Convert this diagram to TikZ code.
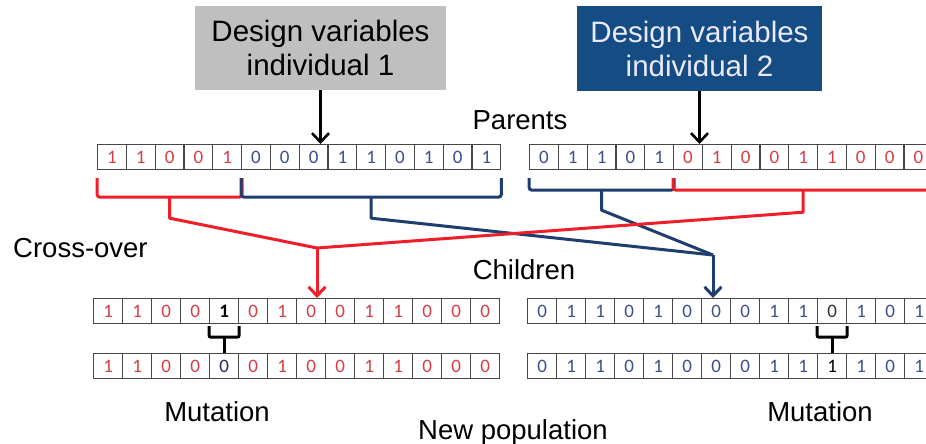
\documentclass[tikz,border=0pt]{standalone}
\usepackage{fontspec}
\setmainfont{Liberation Sans}
\newfontfamily\digitfont{Carlito}
\usetikzlibrary{arrows.meta,calc}
\definecolor{dred}{RGB}{214,62,70}
\definecolor{dblue}{RGB}{62,78,140}
\definecolor{lred}{RGB}{240,30,40}
\definecolor{lblue}{RGB}{30,62,112}
\definecolor{boxgray}{RGB}{191,191,191}
\definecolor{boxblue}{RGB}{22,76,132}
\definecolor{mutblue}{RGB}{40,40,90}
\definecolor{mutbrown}{RGB}{60,45,40}
\tikzset{
  cellbox/.style={draw=black!72, line width=1.2pt, minimum width=#1, minimum height=25pt,
    inner sep=0pt, anchor=north west, font=\digitfont\fontsize{19}{19}\selectfont},
  lbl/.style={font=\fontsize{27.5}{30}\selectfont, anchor=base, inner sep=0pt},
  topbox/.style={minimum height=84pt, align=center, inner sep=0pt,
    font=\fontsize{29.5}{34}\selectfont},
  tipv/.style={-{Straight Barb[length=9pt,width=17pt]}},
  redline/.style={draw=lred, line width=3pt},
  blueline/.style={draw=lblue, line width=3pt},
  blackline/.style={draw=black, line width=3pt},
}
\begin{document}
\begin{tikzpicture}[x=1pt,y=-1pt]
\clip (0,0) rectangle (926,444);
\fill[white] (0,0) rectangle (926,444);

% top boxes
\node[topbox, fill=boxgray, text=black, minimum width=251pt] (b1) at (320.5,48) {Design variables\\individual 1};
\node[topbox, fill=boxblue, text=white!92!blue, minimum width=245pt] (b2) at (699.5,48.5) {Design variables\\individual 2};

% parent rows
\foreach \d/\c [count=\i] in {1/dred,1/dred,0/dred,0/dred,1/dred,0/dblue,0/dblue,0/dblue,1/dblue,1/dblue,0/dblue,1/dblue,0/dblue,1/dblue}
  \node[cellbox=28.8pt, text=\c] (pa\i) at ({97+(\i-1)*28.8},144) {\d};
\foreach \d/\c [count=\i] in {0/dblue,1/dblue,1/dblue,0/dblue,1/dblue,0/dred,1/dred,0/dred,0/dred,1/dred,1/dred,0/dred,0/dred,0/dred}
  \node[cellbox=28.8pt, text=\c] (pb\i) at ({529+(\i-1)*28.8},144) {\d};

% children rows
\foreach \d/\c [count=\i] in {1/dred,1/dred,0/dred,0/dred,{\textbf{1}}/black,0/dred,1/dred,0/dred,0/dred,1/dred,1/dred,0/dred,0/dred,0/dred}
  \node[cellbox=29pt, text=\c] (ca\i) at ({93+(\i-1)*29},298) {\d};
\foreach \d/\c [count=\i] in {1/dred,1/dred,0/dred,0/dred,0/mutblue,0/dred,1/dred,0/dred,0/dred,1/dred,1/dred,0/dred,0/dred,0/dred}
  \node[cellbox=29pt, text=\c] (ma\i) at ({93+(\i-1)*29},353) {\d};
\foreach \d/\c [count=\i] in {0/dblue,1/dblue,1/dblue,0/dblue,1/dblue,0/dblue,0/dblue,0/dblue,1/dblue,1/dblue,0/mutbrown,1/dblue,0/dblue,1/dblue}
  \node[cellbox=29pt, text=\c] (cb\i) at ({527+(\i-1)*29},298) {\d};
\foreach \d/\c [count=\i] in {0/dblue,1/dblue,1/dblue,0/dblue,1/dblue,0/dblue,0/dblue,0/dblue,1/dblue,1/dblue,1/black,1/dblue,0/dblue,1/dblue}
  \node[cellbox=29pt, text=\c] (mb\i) at ({527+(\i-1)*29},353) {\d};

% arrows from boxes
\draw[black, line width=2.6pt, tipv] (b1.south) -- (b1.south |- pa1.north);
\draw[black, line width=2.6pt, tipv] (b2.south) -- (b2.south |- pb1.north);

% labels
\node[lbl] (parents) at (520,129) {Parents};
\node[lbl] (children) at (524,279) {Children};
\node[lbl, anchor=base west] (cross) at (13,257) {Cross-over};
\node[lbl] (mut1) at (217,421) {Mutation};
\node[lbl] (newpop) at (513,439) {New population};
\node[lbl] (mut2) at (820,421) {Mutation};

% brace centres
\coordinate (r1c) at ($(pa1.south west)!0.5!(pa5.south east)$);
\coordinate (u1c) at ($(pa6.south west)!0.5!(pa14.south east)$);
\coordinate (u2c) at ($(pb1.south west)!0.5!(pb5.south east)$);
\coordinate (r2c) at ($(pb6.south west)!0.5!(pb14.south east)$);
\coordinate (rj) at (317,248);
\coordinate (bj) at (713,255);

% braces under parents
\draw[redline, rounded corners=3pt] ([yshift=-8pt]pa1.south west) |- ([yshift=-27pt]r1c) -| ([yshift=-8pt]pa5.south east);
\draw[blueline, rounded corners=3pt] ([yshift=-8pt]pa6.south west) |- ([yshift=-27pt]u1c) -| ([yshift=-8pt]pa14.south east);
\draw[blueline, rounded corners=3pt] ([yshift=-8pt]pb1.south west) |- ([yshift=-20pt]u2c) -| ([yshift=-8pt]pb5.south east);
\draw[redline, rounded corners=3pt] ([yshift=-8pt]pb6.south west) |- ([yshift=-20pt]r2c) -| ([yshift=-8pt]pb14.south east);

% cross-over lines
\draw[blueline, line join=round] ([yshift=-27pt]u1c) -- ([yshift=-48pt]u1c) -- (bj);
\draw[blueline, line join=round] ([yshift=-20pt]u2c) -- ([yshift=-40pt]u2c) -- (bj);
\draw[blueline, tipv] (bj) -- (bj |- cb1.north);
\draw[redline, line join=round] ([yshift=-27pt]r1c) -- ([yshift=-48pt]r1c) -- (rj);
\draw[redline, line join=round] ([yshift=-20pt]r2c) -- ([yshift=-42pt]r2c) -- (rj);
\draw[redline, tipv] (rj) -- (rj |- ca1.north);

% mutation braces
\draw[blackline, rounded corners=2pt] ([yshift=-2pt]ca5.south west) |- ([yshift=-13pt]ca5.south) -| ([yshift=-2pt]ca5.south east);
\draw[blackline] ([yshift=-13pt]ca5.south) -- (ma5.north);
\draw[blackline, rounded corners=2pt] ([yshift=-2pt]cb11.south west) |- ([yshift=-13pt]cb11.south) -| ([yshift=-2pt]cb11.south east);
\draw[blackline] ([yshift=-13pt]cb11.south) -- (mb11.north);
\end{tikzpicture}
\end{document}
